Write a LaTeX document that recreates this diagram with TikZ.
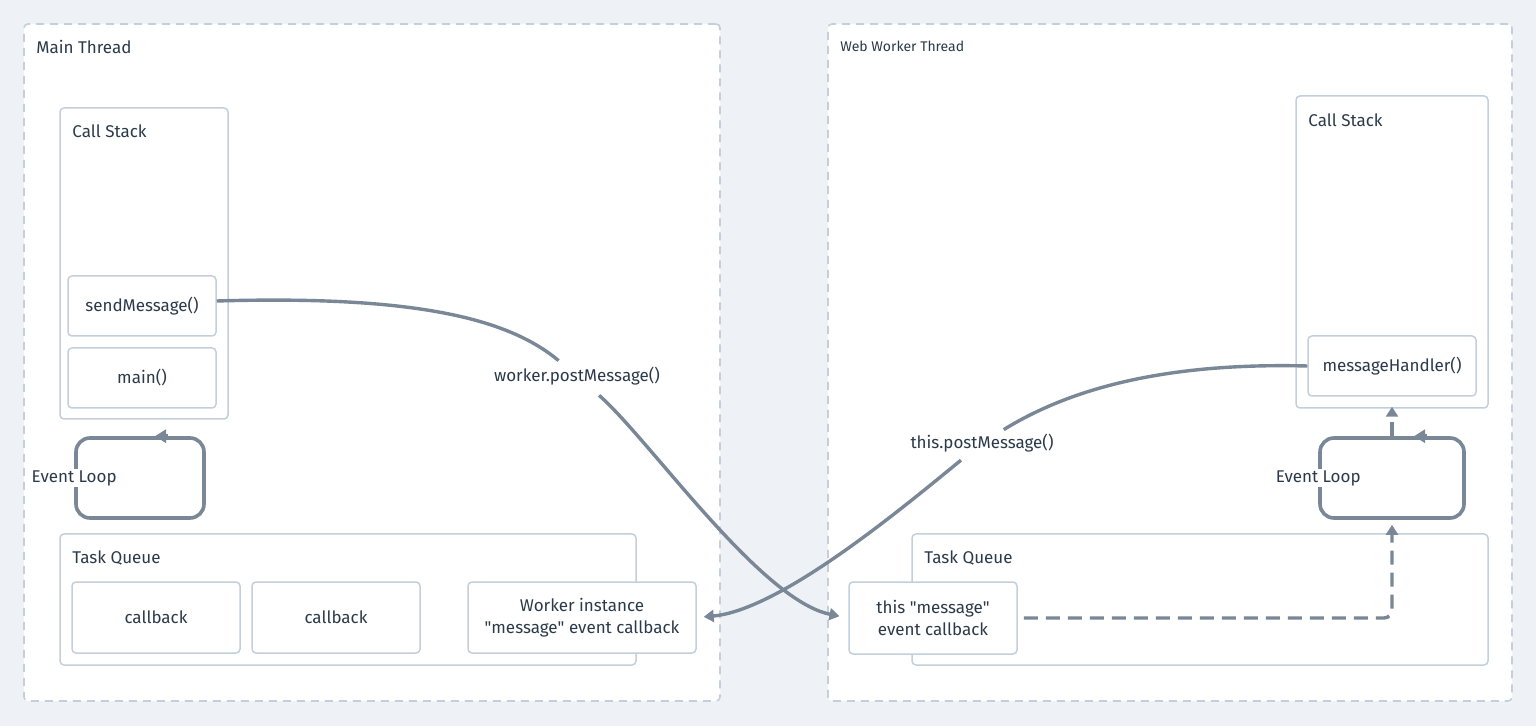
\documentclass[tikz,border=0pt]{standalone}
\usepackage{fontspec}
\setmainfont{Fira Sans}
\usepackage{xcolor}
\usetikzlibrary{arrows.meta}
\definecolor{bgcol}{HTML}{EEF2F6}
\definecolor{panelline}{HTML}{C5CFD9}
\definecolor{boxline}{HTML}{C3CFDB}
\definecolor{flowcol}{HTML}{7A8796}
\definecolor{textcol}{HTML}{2B3A4A}
\tikzset{
	panel/.style={draw=panelline, fill=white, line width=0.8pt, dash pattern=on 4pt off 3pt, rounded corners=2pt, inner sep=0pt},
	box/.style={draw=boxline, fill=white, line width=0.75pt, rounded corners=2pt, inner sep=0pt,
			text=textcol, font=\fontsize{8.5}{11}\selectfont, align=center},
	boxtitle/.style={anchor=west, text=textcol, font=\fontsize{8.5}{10}\selectfont, inner sep=0pt},
	evloop/.style={draw=flowcol, line width=1.8pt, rounded corners=7pt, inner sep=0pt},
	evlabel/.style={fill=white, text=textcol, font=\fontsize{8.5}{10}\selectfont, inner sep=0.8pt},
	msglabel/.style={fill=white, text=textcol, font=\fontsize{8.5}{10}\selectfont, inner sep=3pt},
	flow/.style={draw=flowcol, line width=1.7pt, -{Triangle[length=5pt,width=6pt]}},
	looptip/.style={draw=flowcol, line width=1.8pt, -{Triangle[length=5.5pt,width=6.5pt]}},
	flowdash/.style={flow, dash pattern=on 7pt off 4pt}
}

\begin{document}
\begin{tikzpicture}[x=0.5pt, y=-0.5pt]

		% Background
		\fill[bgcol] (0,0) rectangle (1536,726);

		% Thread panels
		\node[panel, minimum width=348pt, minimum height=338.5pt] (mainThread) at (372,362.5) {};
		\node[panel, minimum width=342pt, minimum height=338.5pt] (workerThread) at (1170,362.5) {};
		\node[boxtitle] (mainTitle) at (36,47) {Main Thread};
		\node[boxtitle, font=\fontsize{7}{9}\selectfont] (workerTitle) at (840,46) {Web Worker Thread};

		% Main thread: call stack
		\node[box, minimum width=84pt, minimum height=155.5pt] (mainStack) at (144,263.5) {};
		\node[boxtitle] (mainStackTitle) at (72,131) {Call Stack};
		\node[box, minimum width=74pt, minimum height=30pt] (send) at (142,306) {sendMessage()};
		\node[box, minimum width=74pt, minimum height=30pt] (mainFn) at (142,378) {main()};

		% Main thread: event loop
		\node[evloop, minimum width=64pt, minimum height=40pt] (mainLoop) at (140,478) {};
		\draw[looptip] ([xshift=14pt]mainLoop.north) -- ([xshift=7.5pt]mainLoop.north);
		\node[evlabel] (mainLoopLabel) at (mainLoop.west) {Event Loop};

		% Main thread: task queue
		\node[box, minimum width=288pt, minimum height=65.5pt] (mainQueue) at (348,599.5) {};
		\node[boxtitle] (mainQueueTitle) at (72,558) {Task Queue};
		\node[box, minimum width=84pt, minimum height=35.5pt] (cbOne) at (156,617.5) {callback};
		\node[box, minimum width=84pt, minimum height=35.5pt] (cbTwo) at (336,617.5) {callback};
		\node[box, minimum width=114pt, minimum height=35.5pt] (workerCb) at (582,617.5) {Worker instance\\\textquotedbl message\textquotedbl{} event callback};

		% Worker thread: call stack
		\node[box, minimum width=96pt, minimum height=156pt] (workerStack) at (1392,252) {};
		\node[boxtitle] (workerStackTitle) at (1308,120) {Call Stack};
		\node[box, minimum width=84pt, minimum height=30pt] (handler) at (1392,366) {messageHandler()};

		% Worker thread: event loop
		\node[evloop, minimum width=72pt, minimum height=40pt] (workerLoop) at (1392,478) {};
		\draw[looptip] ([xshift=17.5pt]workerLoop.north) -- ([xshift=11pt]workerLoop.north);
		\node[evlabel] (workerLoopLabel) at (workerLoop.west) {Event Loop};

		% Worker thread: task queue
		\node[box, minimum width=288pt, minimum height=65.5pt] (workerQueue) at (1200,599.5) {};
		\node[boxtitle] (workerQueueTitle) at (924,558) {Task Queue};
		\node[box, minimum width=84pt, minimum height=36pt] (thisCb) at (933,618) {this \textquotedbl message\textquotedbl\\event callback};

		% Messages between threads
		\node[msglabel] (workerPost) at (577,376) {worker.postMessage()};
		\node[msglabel, inner sep=2pt] (thisPost) at (982,443) {this.postMessage()};
		\draw[flow, shorten <=3pt, shorten >=4.5pt] ([yshift=2.5pt]send.east) .. controls (420,295) and (510,320) .. (workerPost)
			.. controls (650,440) and (760,600) .. (thisCb.west);
		\draw[flow, shorten <=3pt, shorten >=3.5pt] (handler.west) .. controls (1150,362) and (1060,395) .. (thisPost)
			.. controls (900,510) and (780,610) .. (workerCb.east);

		% Worker thread: queue to loop to stack
		\draw[flowdash, rounded corners=4pt, shorten <=3pt, shorten >=2.5pt] (thisCb.east) -| (workerLoop.south);
		\draw[flowdash, shorten >=-1pt] (workerLoop.north) -- (workerStack.south);
	\end{tikzpicture}
\end{document}
